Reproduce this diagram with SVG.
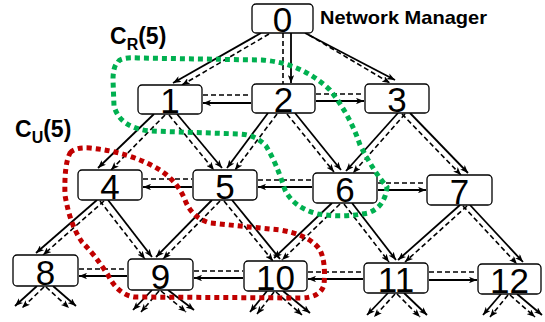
<svg xmlns="http://www.w3.org/2000/svg" width="545" height="322" viewBox="0 0 545 322">
  <defs>
    <marker id="arrow" viewBox="0 0 10 8" refX="10" refY="4" markerWidth="8" markerHeight="6.5" markerUnits="userSpaceOnUse" orient="auto">
      <path d="M0,0 L10,4 L0,8 L2.5,4 Z" fill="#000"/>
    </marker>
    <style>
      .node rect { fill: #fff; stroke: #000; stroke-width: 1.3; }
      .node text { font-family: "Liberation Sans", Arial, sans-serif; font-size: 35px; text-anchor: middle; fill: #000; }
      .s { stroke: #000; stroke-width: 1.8; fill: none; marker-end: url(#arrow); }
      .d { stroke: #000; stroke-width: 1.6; fill: none; stroke-dasharray: 5 3; marker-end: url(#arrow); }
      .h { stroke: #000; stroke-width: 1.6; fill: none; stroke-dasharray: 5 3; }
      .lbl { font-family: "Liberation Sans", Arial, sans-serif; font-weight: bold; fill: #000; }
      .grp { fill: none; stroke-width: 5; stroke-dasharray: 5 4; }
    </style>
  </defs>

  <!-- links: solid arrow paired with dashed line -->
  <g id="connectors">
    <!-- row 0 to row 1 -->
    <line class="s" x1="261" y1="33" x2="173" y2="83"/>
    <line class="d" x1="269" y1="34" x2="182" y2="85"/>
    <line class="h" x1="283" y1="33" x2="283" y2="84"/>
    <line class="s" x1="291" y1="33" x2="291" y2="83"/>
    <line class="s" x1="305" y1="33" x2="395" y2="80"/>
    <line class="d" x1="309" y1="35" x2="390" y2="83"/>
    <!-- row 1 to row 2 -->
    <line class="s" x1="154" y1="114" x2="98" y2="168"/>
    <line class="d" x1="165" y1="115" x2="111" y2="170"/>
    <line class="s" x1="177" y1="114" x2="222" y2="168"/>
    <line class="d" x1="169" y1="115" x2="214" y2="170"/>
    <line class="s" x1="268" y1="113" x2="227" y2="168"/>
    <line class="d" x1="277" y1="114" x2="235" y2="170"/>
    <line class="s" x1="295" y1="113" x2="341" y2="170"/>
    <line class="d" x1="287" y1="114" x2="334" y2="172"/>
    <line class="s" x1="398" y1="113" x2="346" y2="171"/>
    <line class="d" x1="405" y1="114" x2="353" y2="173"/>
    <line class="s" x1="410" y1="113" x2="468" y2="173"/>
    <line class="d" x1="402" y1="114" x2="461" y2="175"/>
    <!-- row 2 to row 3 -->
    <line class="s" x1="97" y1="200" x2="36" y2="253"/>
    <line class="d" x1="104" y1="201" x2="43" y2="255"/>
    <line class="s" x1="108" y1="200" x2="152" y2="257"/>
    <line class="d" x1="100" y1="201" x2="145" y2="259"/>
    <line class="s" x1="212" y1="200" x2="156" y2="257"/>
    <line class="d" x1="220" y1="201" x2="163" y2="259"/>
    <line class="s" x1="232" y1="200" x2="280" y2="259"/>
    <line class="d" x1="224" y1="201" x2="273" y2="261"/>
    <line class="s" x1="332" y1="203" x2="274" y2="258"/>
    <line class="d" x1="340" y1="204" x2="282" y2="260"/>
    <line class="s" x1="352" y1="203" x2="396" y2="260"/>
    <line class="d" x1="344" y1="204" x2="389" y2="262"/>
    <line class="s" x1="460" y1="205" x2="398" y2="260"/>
    <line class="d" x1="467" y1="206" x2="405" y2="262"/>
    <line class="s" x1="470" y1="205" x2="523" y2="262"/>
    <line class="d" x1="463" y1="206" x2="517" y2="264"/>
    <!-- row 3 outward -->
    <line class="s" x1="37" y1="286" x2="15" y2="306"/>
    <line class="d" x1="44" y1="287" x2="22" y2="308"/>
    <line class="s" x1="53" y1="286" x2="76" y2="306"/>
    <line class="d" x1="46" y1="287" x2="69" y2="308"/>
    <line class="s" x1="152" y1="290" x2="133" y2="310"/>
    <line class="d" x1="159" y1="291" x2="141" y2="312"/>
    <line class="s" x1="168" y1="290" x2="194" y2="310"/>
    <line class="d" x1="161" y1="291" x2="186" y2="312"/>
    <line class="s" x1="267" y1="291" x2="250" y2="312"/>
    <line class="d" x1="274" y1="292" x2="257" y2="314"/>
    <line class="s" x1="283" y1="291" x2="310" y2="313"/>
    <line class="d" x1="276" y1="292" x2="302" y2="315"/>
    <line class="s" x1="388" y1="293" x2="367" y2="315"/>
    <line class="d" x1="395" y1="294" x2="374" y2="317"/>
    <line class="s" x1="404" y1="293" x2="427" y2="315"/>
    <line class="d" x1="397" y1="294" x2="420" y2="317"/>
    <line class="s" x1="501" y1="294" x2="483" y2="315"/>
    <line class="d" x1="508" y1="295" x2="490" y2="317"/>
    <line class="s" x1="517" y1="294" x2="542" y2="315"/>
    <line class="d" x1="510" y1="295" x2="535" y2="317"/>
    <!-- same-row links -->
    <line class="h" x1="203" y1="95" x2="251" y2="95"/>
    <line class="s" x1="251" y1="103" x2="203" y2="103"/>
    <line class="h" x1="316" y1="94" x2="364" y2="94"/>
    <line class="s" x1="316" y1="101" x2="364" y2="101"/>
    <line class="h" x1="143" y1="179" x2="192" y2="179"/>
    <line class="s" x1="192" y1="187" x2="143" y2="187"/>
    <line class="h" x1="258" y1="180" x2="312" y2="180"/>
    <line class="s" x1="312" y1="187" x2="258" y2="187"/>
    <line class="h" x1="378" y1="183" x2="426" y2="183"/>
    <line class="s" x1="378" y1="190" x2="426" y2="190"/>
    <line class="h" x1="79" y1="269" x2="127" y2="269"/>
    <line class="s" x1="127" y1="276" x2="79" y2="276"/>
    <line class="h" x1="194" y1="271" x2="243" y2="271"/>
    <line class="s" x1="243" y1="278" x2="194" y2="278"/>
    <line class="h" x1="308" y1="272" x2="363" y2="272"/>
    <line class="s" x1="363" y1="279" x2="308" y2="279"/>
    <line class="h" x1="429" y1="272" x2="477" y2="272"/>
    <line class="s" x1="429" y1="280" x2="477" y2="280"/>
  </g>

  <g id="n0" class="node"><rect x="252" y="4" width="61" height="29" rx="4"/><text x="282.5" y="32">0</text></g>
  <g id="n1" class="node"><rect x="138" y="85" width="64" height="29" rx="4"/><text x="170" y="113">1</text></g>
  <g id="n2" class="node"><rect x="252" y="84" width="63" height="29" rx="4"/><text x="283.5" y="112">2</text></g>
  <g id="n3" class="node"><rect x="365" y="84" width="64" height="29" rx="4"/><text x="397" y="112">3</text></g>
  <g id="n4" class="node"><rect x="78" y="170" width="64" height="30" rx="4"/><text x="110" y="199">4</text></g>
  <g id="n5" class="node"><rect x="193" y="170" width="64" height="30" rx="4"/><text x="225" y="199">5</text></g>
  <g id="n6" class="node"><rect x="313" y="173" width="64" height="30" rx="4"/><text x="345" y="202">6</text></g>
  <g id="n7" class="node"><rect x="427" y="175" width="65" height="30" rx="4"/><text x="459.5" y="204">7</text></g>
  <g id="n8" class="node"><rect x="13" y="255" width="65" height="31" rx="4"/><text x="45.5" y="285">8</text></g>
  <g id="n9" class="node"><rect x="128" y="259" width="65" height="31" rx="4"/><text x="160.5" y="289">9</text></g>
  <g id="n10" class="node"><rect x="244" y="261" width="63" height="30" rx="4"/><text x="275.5" y="290">10</text></g>
  <g id="n11" class="node"><rect x="364" y="263" width="64" height="30" rx="4"/><text x="396" y="292">11</text></g>
  <g id="n12" class="node"><rect x="478" y="264" width="63" height="30" rx="4"/><text x="509.5" y="293">12</text></g>

  <!-- dotted group outlines -->
  <path class="grp" stroke="#00b050" d="M118,62 Q121,57 138,58 L262,60 Q302,63 330,90 Q350,115 360,145 Q374,172 387,187 Q385,207 368,213 Q343,218 318,214 Q294,208 285,190 Q276,162 266,146 Q256,135 240,134 L150,131 Q120,128 114,106 L113,80 Q113,66 118,62 Z"/>
  <path class="grp" stroke="#c00000" d="M70,153 Q75,147 90,148 Q130,152 160,170 Q178,182 185,200 Q192,218 210,223 L280,230 Q310,235 320,250 Q326,262 324,285 Q320,298 300,298 L135,297 Q118,295 108,275 Q95,255 82,242 Q70,225 65,195 Q64,165 70,153 Z"/>

  <!-- labels -->
  <text class="lbl" x="320" y="24" font-size="18.5" textLength="167" lengthAdjust="spacingAndGlyphs">Network Manager</text>
  <text class="lbl" x="110" y="44" font-size="23">C<tspan font-size="16" dy="6">R</tspan><tspan dy="-6">(5)</tspan></text>
  <text class="lbl" x="15" y="137" font-size="23">C<tspan font-size="16" dy="6">U</tspan><tspan dy="-6">(5)</tspan></text>
</svg>
